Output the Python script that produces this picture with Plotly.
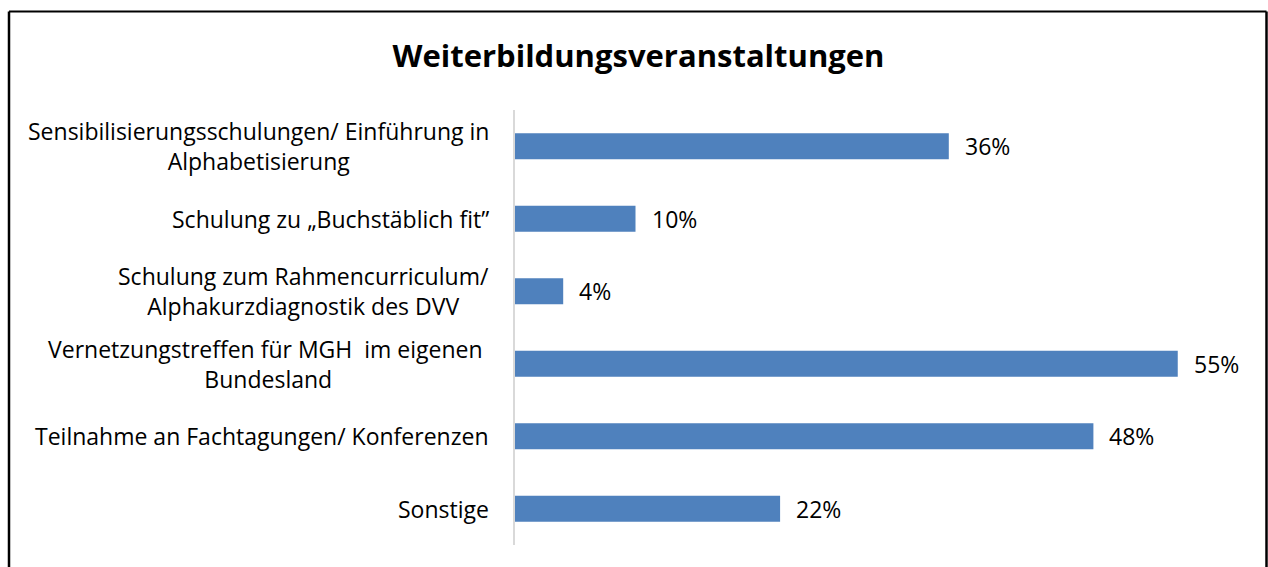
import plotly.graph_objects as go

categories = [
    "Sensibilisierungsschulungen/ Einführung in<br>Alphabetisierung",
    "Schulung zu „Buchstäblich fit”",
    "Schulung zum Rahmencurriculum/<br>Alphakurzdiagnostik des DVV",
    "Vernetzungstreffen für MGH  im eigenen\u00a0<br>Bundesland",
    "Teilnahme an Fachtagungen/ Konferenzen",
    "Sonstige",
]
values = [36, 10, 4, 55, 48, 22]
value_labels = [f"{v}%" for v in values]
title_text = "Weiterbildungsveranstaltungen"

W, H = 1268, 567
L, R, T, B = 515, 30, 110, 22
pw, ph = W - L - R, H - T - B

def px(x):
    return (x - L) / pw

def py(y):
    return (H - B - y) / ph

fig = go.Figure()
fig.add_trace(go.Bar(
    x=values, y=categories, orientation="h",
    marker=dict(color="#4F81BD", line=dict(width=0)),
    width=0.36, hoverinfo="skip",
))

for c, v, t in zip(categories, values, value_labels):
    fig.add_annotation(x=v, y=c, text=t, showarrow=False, xanchor="left",
                       xshift=14, font=dict(size=23, color="#000000"))
    # category label: block right-aligned, lines centred within block
    fig.add_annotation(xref="paper", x=px(491), y=c, text=c, showarrow=False,
                       xanchor="right", align="center", yanchor="middle",
                       font=dict(size=23, color="#000000"))

# outer chart border
for x0, y0, x1, y1, w in [
    (9, 11.5, 1266.5, 11.5, 2),
    (9, 11.5, 9, 600, 2.5),
    (1266.5, 11.5, 1266.5, 600, 2.5),
]:
    fig.add_shape(type="line", xref="paper", yref="paper",
                  x0=px(x0), y0=py(y0), x1=px(x1), y1=py(y1),
                  line=dict(color="#000000", width=w))

fig.update_layout(
    width=W, height=H,
    margin=dict(l=L, r=R, t=T, b=B, autoexpand=False),
    paper_bgcolor="white", plot_bgcolor="white",
    font=dict(family="Open Sans", color="#000000", size=23),
    title=dict(text=f"<b>{title_text}</b>", x=638.5 / W, xref="container", xanchor="center",
               y=1 - 56 / H, yanchor="middle", yref="container",
               font=dict(size=31, color="#000000", family="Open Sans")),
    showlegend=False,
    bargap=0.64,
)
fig.update_xaxes(range=[0, 60], visible=False, fixedrange=True)
fig.update_yaxes(autorange="reversed", showline=True, linecolor="#D9D9D9", linewidth=2,
                 ticks="", showticklabels=False, showgrid=False, zeroline=False)

fig.write_html("out.html", config={"displayModeBar": False},
               post_script="document.body.style.margin='0';")
